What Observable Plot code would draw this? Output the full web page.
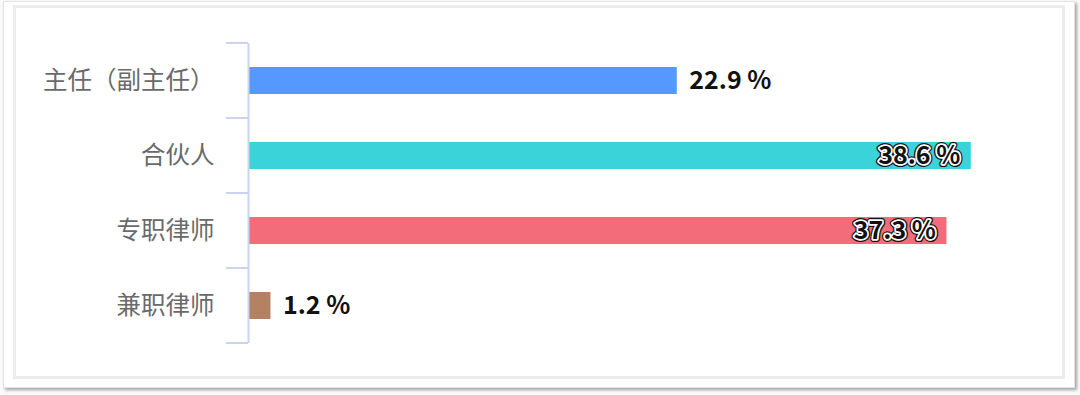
<!DOCTYPE html>
<html>
<head>
<meta charset="utf-8">
<script src="https://cdn.jsdelivr.net/npm/d3@7"></script>
<script src="https://cdn.jsdelivr.net/npm/@observablehq/plot@0.6"></script>
<style>
  html, body { margin: 0; padding: 0; background: #fafafa; }
  #card { position: absolute; left: 3px; top: 1px; width: 1070px; height: 385px; background: #fff;
          border: 1px solid #e4e4e4; box-shadow: 2px 2px 3px rgba(0,0,0,0.35); }
  #inner { position: absolute; left: 13px; top: 5px; width: 1046px; height: 368px;
           border: 3px solid #ececec; }
  #chart { position: absolute; left: 0; top: 0; }
</style>
</head>
<body>
<div id="card"></div>
<div id="inner"></div>
<div id="chart"></div>
<script>
const categories = ["主任（副主任）", "合伙人", "专职律师", "兼职律师"];
const values = [22.9, 38.6, 37.3, 1.2];
const colors = ["#5599ff", "#3ad3d9", "#f26c7a", "#b38262"];
const labels = ["22.9 %", "38.6 %", "37.3 %", "1.2 %"];

const data = categories.map((c, i) => ({cat: c, value: values[i], color: colors[i], label: labels[i]}));
const inside = data.filter(d => d.value > 30);
const outside = data.filter(d => d.value <= 30);

const axisColor = "#cbd4ee";
const font = "'Noto Sans CJK SC', 'Noto Sans', sans-serif";

const chart = Plot.plot({
  width: 1080,
  height: 395,
  marginTop: 43,
  marginBottom: 52,
  marginLeft: 248,
  marginRight: 83,
  style: {background: "transparent", fontFamily: font},
  x: {domain: [0, 40], axis: null},
  y: {domain: categories, padding: 0, label: null, axis: null},
  marks: [
    Plot.barX(data, {y: "cat", x: "value", fill: "color", insetTop: 24, insetBottom: 24}),
    Plot.ruleX([0], {stroke: axisColor, strokeWidth: 2}),
    Plot.axisY({tickSize: 0, tickPadding: 34, fontSize: 24.5, fill: "#6a6a6a", label: null, fontFamily: font}),
    Plot.text(outside, {y: "cat", x: "value", text: "label", dx: 12, textAnchor: "start",
      fontSize: 25, fontWeight: "bold", fill: "#111", fontFamily: font}),
    Plot.text(inside, {y: "cat", x: "value", text: "label", dx: -11, textAnchor: "end",
      fontSize: 25, fontWeight: "bold", fill: "#111", stroke: "#111", strokeWidth: 6,
      strokeLinejoin: "round", fontFamily: font}),
    Plot.text(inside, {y: "cat", x: "value", text: "label", dx: -11, textAnchor: "end",
      fontSize: 25, fontWeight: "bold", fill: "#111", stroke: "#fff", strokeWidth: 3.5,
      strokeLinejoin: "round", fontFamily: font})
  ]
});

// band boundary ticks from the library's y scale
const y = chart.scale("y");
const x = chart.scale("x");
const x0 = x.apply(0);
const bounds = [];
categories.forEach((c, i) => {
  if (i === 0) bounds.push(y.apply(c));
  bounds.push(y.apply(c) + y.bandwidth);
});
const svg = d3.select(chart);
svg.append("g").selectAll("line").data(bounds).join("line")
  .attr("x1", x0 - 22).attr("x2", x0)
  .attr("y1", d => d).attr("y2", d => d)
  .attr("stroke", axisColor).attr("stroke-width", 2);

document.getElementById("chart").appendChild(chart);
</script>
</body>
</html>
